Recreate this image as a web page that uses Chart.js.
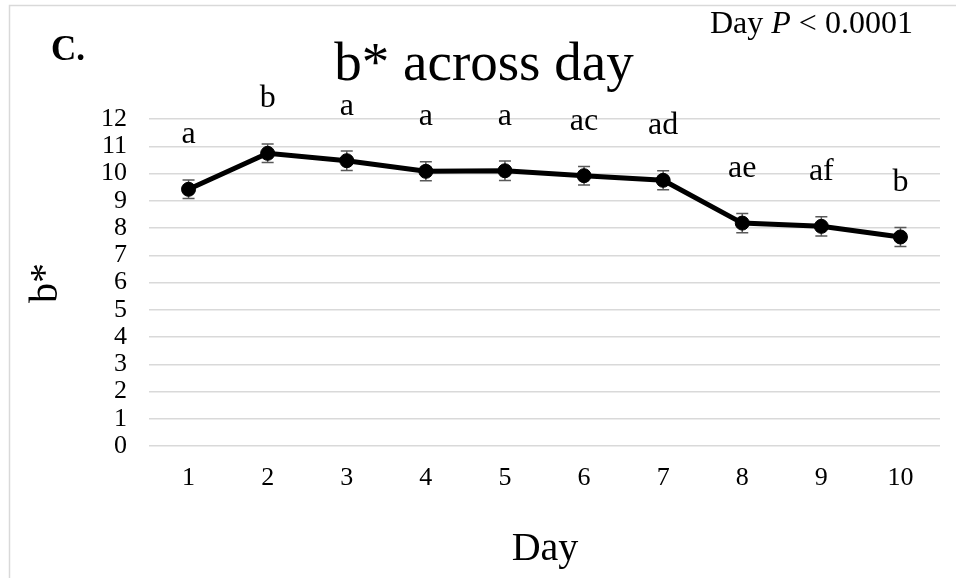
<!DOCTYPE html>
<html>
<head>
<meta charset="utf-8">
<script src="https://cdn.jsdelivr.net/npm/chart.js@4/dist/chart.umd.min.js"></script>
<style>
  html, body { margin: 0; padding: 0; background: #ffffff; }
  #wrap { width: 956px; height: 578px; }
</style>
</head>
<body>
<div id="wrap"><canvas id="c" width="956" height="578"></canvas></div>
<script>
// b* colour values by storage day, with standard errors and significance letters
const days = ['1', '2', '3', '4', '5', '6', '7', '8', '9', '10'];
const bStar = [9.42, 10.74, 10.47, 10.08, 10.10, 9.92, 9.75, 8.18, 8.06, 7.67];
const stdErr = [0.34, 0.34, 0.36, 0.35, 0.36, 0.34, 0.35, 0.35, 0.35, 0.35];
const letters = ['a', 'b', 'a', 'a', 'a', 'ac', 'ad', 'ae', 'af', 'b'];
const yTicks = [0, 1, 2, 3, 4, 5, 6, 7, 8, 9, 10, 11, 12];

const SERIF = '"Liberation Serif", "DejaVu Serif", serif';

// light frame round the whole figure
const framePlugin = {
  id: 'frame',
  beforeDraw(chart) {
    const ctx = chart.ctx;
    ctx.save();
    ctx.fillStyle = '#ffffff';
    ctx.fillRect(0, 0, chart.width, chart.height);
    ctx.strokeStyle = '#d9d9d9';
    ctx.lineWidth = 1.5;
    ctx.strokeRect(9.5, 5.5, chart.width + 20, chart.height + 20);
    ctx.restore();
  }
};

// vertical error bars with caps, drawn under the line and markers
const errorBarPlugin = {
  id: 'errorBars',
  beforeDatasetsDraw(chart) {
    const ctx = chart.ctx;
    const x = chart.scales.x, y = chart.scales.y;
    ctx.save();
    ctx.strokeStyle = '#595959';
    ctx.lineWidth = 1.5;
    bStar.forEach((v, i) => {
      const px = x.getPixelForValue(i);
      const top = y.getPixelForValue(v + stdErr[i]);
      const bot = y.getPixelForValue(v - stdErr[i]);
      ctx.beginPath();
      ctx.moveTo(px, top); ctx.lineTo(px, bot);
      ctx.moveTo(px - 6, top); ctx.lineTo(px + 6, top);
      ctx.moveTo(px - 6, bot); ctx.lineTo(px + 6, bot);
      ctx.stroke();
    });
    ctx.restore();
  }
};

// significance letters above each point
const letterPlugin = {
  id: 'letters',
  afterDatasetsDraw(chart) {
    const ctx = chart.ctx;
    const x = chart.scales.x, y = chart.scales.y;
    ctx.save();
    ctx.fillStyle = '#000000';
    ctx.font = '32px ' + SERIF;
    ctx.textAlign = 'center';
    ctx.textBaseline = 'alphabetic';
    letters.forEach((t, i) => {
      ctx.fillText(t, x.getPixelForValue(i), y.getPixelForValue(bStar[i]) - 46);
    });
    ctx.restore();
  }
};

// title, panel tag, P-value note and axis titles
const textPlugin = {
  id: 'texts',
  afterDraw(chart) {
    const ctx = chart.ctx;
    ctx.save();
    ctx.fillStyle = '#000000';
    ctx.textBaseline = 'alphabetic';

    ctx.textAlign = 'center';
    ctx.font = '55px ' + SERIF;
    ctx.fillText('b* across day', 484, 80);

    ctx.textAlign = 'left';
    ctx.font = 'bold 35px ' + SERIF;
    ctx.fillText('C.', 51, 60);

    // "Day P < 0.0001" with italic P
    let nx = 710;
    const ny = 33;
    ctx.font = '32px ' + SERIF;
    ctx.fillText('Day ', nx, ny);
    nx += ctx.measureText('Day ').width;
    ctx.font = 'italic 32px ' + SERIF;
    ctx.fillText('P', nx, ny);
    nx += ctx.measureText('P').width;
    ctx.font = '32px ' + SERIF;
    ctx.fillText(' < 0.0001', nx, ny);

    ctx.textAlign = 'center';
    ctx.font = '40px ' + SERIF;
    ctx.fillText('Day', 545, 560);

    ctx.translate(57, 283);
    ctx.rotate(-Math.PI / 2);
    ctx.fillText('b*', 0, 0);
    ctx.restore();
  }
};

new Chart(document.getElementById('c'), {
  type: 'line',
  data: {
    labels: days,
    datasets: [{
      data: bStar,
      borderColor: '#000000',
      backgroundColor: '#000000',
      borderWidth: 5,
      pointRadius: 7,
      pointBorderWidth: 1,
      pointBackgroundColor: '#000000',
      pointBorderColor: '#000000',
      tension: 0,
      fill: false
    }]
  },
  options: {
    responsive: false,
    animation: false,
    devicePixelRatio: 1,
    layout: { padding: { top: 119, right: 16, left: 0, bottom: 0 } },
    plugins: {
      legend: { display: false },
      title: { display: false },
      tooltip: { enabled: false }
    },
    scales: {
      x: {
        type: 'category',
        offset: true,
        grid: { display: false },
        border: { display: false },
        ticks: {
          color: '#000000',
          font: { family: SERIF, size: 26 },
          padding: 9,
          maxRotation: 0
        },
        afterFit(scale) { scale.height = 132; }
      },
      y: {
        min: 0,
        max: 12,
        afterBuildTicks(scale) { scale.ticks = yTicks.map(v => ({ value: v })); },
        grid: { color: '#d9d9d9', lineWidth: 1.5, drawTicks: false },
        border: { display: false },
        ticks: {
          color: '#000000',
          font: { family: SERIF, size: 26 },
          padding: 22,
          autoSkip: false,
          stepSize: 1
        },
        afterFit(scale) { scale.width = 149; }
      }
    }
  },
  plugins: [framePlugin, errorBarPlugin, letterPlugin, textPlugin]
});
</script>
</body>
</html>
